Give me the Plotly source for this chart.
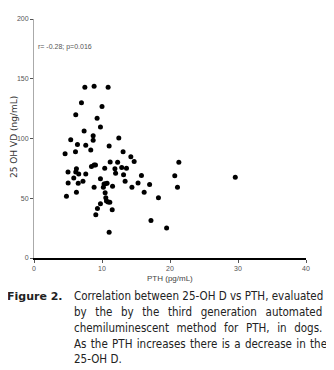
import plotly.graph_objects as go

pth = [7.48, 8.84, 10.9, 6.98, 10.0, 6.14, 9.28, 9.77, 7.37, 5.4, 8.7, 8.7, 12.47,
       4.57, 6.1, 6.39, 7.61, 8.35, 11.05, 13.1, 11.2, 12.9, 12.3, 14.24, 14.73,
       8.45, 8.84, 9.04, 10.4, 5.0, 6.24, 6.14, 6.58, 7.61, 12.0, 11.9, 13.6, 13.17,
       15.8, 7.2, 5.85, 6.5, 5.02, 9.77, 10.3, 10.5, 10.75, 8.84, 10.2, 11.55, 13.4,
       14.4, 15.3, 16.2, 17.0, 6.24, 4.77, 10.46, 10.56, 10.66, 10.9, 11.15, 9.77,
       9.33, 9.09, 11.5, 18.3, 17.2, 19.5, 11.05, 20.7, 21.3, 21.1, 29.6]
vitd = [142.9, 143.8, 142.9, 130.0, 126.7, 119.9, 116.9, 109.7, 106.2, 99.0, 102.4, 98.6, 100.4,
        87.2, 88.9, 94.9, 94.4, 90.3, 93.8, 88.9, 80.4, 75.7, 80.1, 84.8, 80.7,
        76.5, 77.9, 77.9, 75.2, 71.9, 74.6, 71.9, 70.2, 70.2, 71.0, 74.6, 75.2, 69.7,
        69.1, 64.2, 66.9, 62.6, 62.8, 66.4, 62.0, 62.2, 62.6, 59.3, 59.3, 60.1, 64.2,
        59.3, 62.8, 55.1, 61.5, 55.1, 51.6, 54.6, 50.5, 47.7, 46.9, 46.6, 45.5,
        41.4, 36.2, 40.3, 50.5, 31.3, 25.2, 21.6, 68.9, 80.1, 59.3, 67.5]

x_ticks = [0, 10, 20, 30, 40]
y_ticks = [0, 50, 100, 150, 200]
stat_text = "r= -0.28; p=0.016"
x_title = "PTH (pg/mL)"
y_title = "25 OH VD (ng/mL)"
caption_label = "Figure 2."
caption_lines = [
    "Correlation between 25-OH D vs PTH, evaluated",
    "by the by the third generation automated",
    "chemiluminescent method for PTH, in dogs.",
    "As the PTH increases there is a decrease in the",
    "25-OH D.",
]
# word-gap strings used to imitate the justified caption
caption_gaps = [" ", " \u00a0\u2009", " \u00a0\u200a", " \u200a", " "]

# page body has an 8px margin: figure drawn at (8,8)
OFF = 8
W, H = 334 - OFF, 370 - OFF
plot_left, plot_top = 34 - OFF, 15 - OFF
plot_w, plot_h = 272, 243
mr = W - plot_left - plot_w
mb = H - plot_top - plot_h

tick_font = dict(family="Liberation Sans Narrow, Arial Narrow, Liberation Sans, sans-serif", size=7, color="#555555")

fig = go.Figure()
fig.add_trace(go.Scatter(
    x=pth, y=vitd, mode="markers",
    marker=dict(color="black", size=5, line=dict(width=0)),
    showlegend=False, hoverinfo="skip",
))

fig.update_layout(
    width=W, height=H,
    margin=dict(l=plot_left, r=mr, t=plot_top, b=mb, pad=0),
    paper_bgcolor="white", plot_bgcolor="white",
    xaxis=dict(range=[0, 40], tickvals=x_ticks, ticktext=[str(v) for v in x_ticks],
               showgrid=False, zeroline=False, showline=True, linecolor="black", linewidth=2,
               ticks="outside", ticklen=3, tickwidth=1, tickcolor="#555555",
               tickfont=tick_font, fixedrange=True),
    yaxis=dict(range=[0, 200], tickvals=y_ticks, ticktext=[str(v) for v in y_ticks],
               showgrid=False, zeroline=False, showline=True, linecolor="#aaaaaa", linewidth=1,
               ticks="outside", ticklen=3, tickwidth=1, tickcolor="#555555",
               tickfont=tick_font, fixedrange=True),
)

def px_to_paper(xp, yp):
    # xp, yp are pixel coords in the 334x370 window
    return (xp - OFF - plot_left) / plot_w, (plot_top + plot_h - (yp - OFF)) / plot_h

annotations = []
sx, sy = px_to_paper(36, 43)
annotations.append(dict(text=stat_text, x=sx, y=sy, xref="paper", yref="paper", xanchor="left", yanchor="middle",
                        showarrow=False, font=dict(family="Liberation Sans Narrow, Arial Narrow, sans-serif", size=7, color="#555555")))
tx, ty = px_to_paper(170, 279)
annotations.append(dict(text=x_title, x=tx, y=ty, xref="paper", yref="paper", xanchor="center", yanchor="middle",
                        showarrow=False, font=dict(family="Liberation Sans Narrow, Arial Narrow, sans-serif", size=8, color="#444444")))
yx, yy = px_to_paper(14, 135)
annotations.append(dict(text=y_title, x=yx, y=yy, xref="paper", yref="paper", xanchor="center", yanchor="middle",
                        textangle=-90, showarrow=False,
                        font=dict(family="DejaVu Sans, sans-serif", size=9, color="#333333")))
fx, fy = px_to_paper(5, 297)
annotations.append(dict(text="<b>" + caption_label + "</b>", x=fx, y=fy, xref="paper", yref="paper",
                        xanchor="left", yanchor="middle", showarrow=False,
                        font=dict(family="DejaVu Sans, Verdana, sans-serif", size=11, color="#222222")))
for i, line in enumerate(caption_lines):
    lx, ly = px_to_paper(72, 297 + 16 * i)
    annotations.append(dict(text=caption_gaps[i].join(line.split(" ")), x=lx, y=ly, xref="paper", yref="paper",
                            xanchor="left", yanchor="middle", showarrow=False,
                            font=dict(family="DejaVu Sans Condensed, DejaVu Sans, sans-serif", size=11.5, color="#222222")))
fig.update_layout(annotations=annotations)

fig.write_html("out.html")
